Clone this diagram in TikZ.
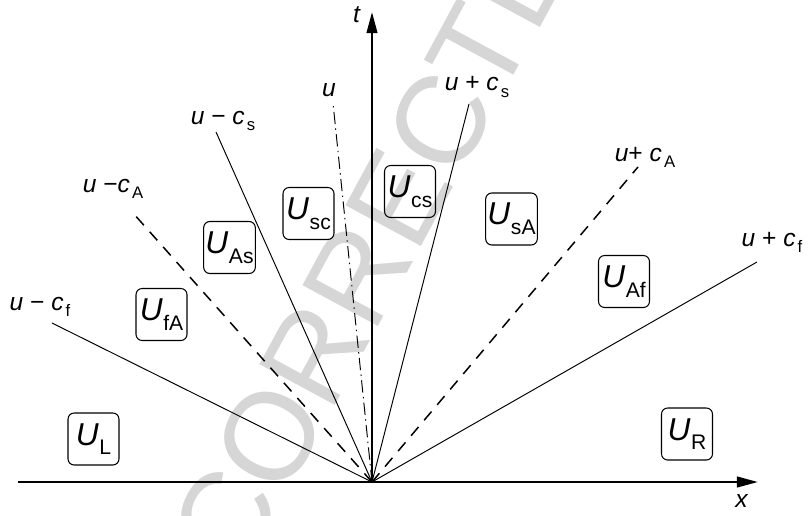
\documentclass[tikz,border=0pt]{standalone}
\usepackage{fontspec}
\setmainfont{Liberation Sans}
\usetikzlibrary{arrows.meta}

\newcommand{\regsub}[1]{\kern0.3pt\raisebox{-5.5pt}{\fontsize{12}{12}\selectfont #1}}
\newcommand{\lblsub}[1]{\kern1.2pt\raisebox{-3.5pt}{\fontsize{9.5}{9.5}\selectfont #1}}

\tikzset{
  region/.style={draw, rounded corners=3.5pt, line width=0.6pt, minimum width=1.02cm,
    minimum height=1.04cm, inner sep=1pt, font=\fontsize{18}{18}\selectfont},
  wave/.style={line width=0.55pt},
  slow/.style={line width=0.85pt, dash pattern=on 6.5pt off 5pt},
  contact/.style={line width=0.55pt, dash pattern=on 7pt off 2.5pt on 0.8pt off 2.5pt},
  axis/.style={line width=1.4pt, -{Triangle[length=12pt,width=6pt]}},
  lbl/.style={font=\fontsize{14}{14}\selectfont, inner sep=0pt},
}

\begin{document}
\begin{tikzpicture}[x=0.02cm, y=-0.02cm]
		\useasboundingbox (0,0) rectangle (809,515);
		% proof watermark
		\node[text=gray!32, rotate=61.6, font=\fontsize{71}{71}\selectfont] (wm) at (392,211) {CORRECTED};
		
		\coordinate (O) at (372,482);
		\coordinate (xs) at (18,482);
		\coordinate (xe) at (758,482);
		\coordinate (te) at (372,12);
		\draw[axis] (xs) -- (xe); \node[lbl] (xl) at (742,501) {\textit{x}};
		\draw[axis] (O) -- (te); \node[lbl] (tl) at (357,15) {\textit{t}};
		
		% wave ends
		\coordinate (fL) at (52,323); \node[lbl] (lfL) at (40,307) {\textit{u} − \textit{c}\lblsub{f}};
		\coordinate (aL) at (133,213); \node[lbl] (laL) at (113,189) {\textit{u} −\textit{c}\lblsub{A}};
		\coordinate (sL) at (216,132); \node[lbl] (lsL) at (223,121) {\textit{u} − \textit{c}\lblsub{s}};
		\coordinate (cc) at (333,103); \node[lbl] (lcc) at (329,90) {\textit{u}};
		\coordinate (sR) at (469,104); \node[lbl] (lsR) at (477,87) {\textit{u} + \textit{c}\lblsub{s}};
		\coordinate (aR) at (638,167); \node[lbl] (laR) at (645,157) {\textit{u}+ \textit{c}\lblsub{A}};
		\coordinate (fR) at (757,262); \node[lbl] (lfR) at (772,242) {\textit{u} + \textit{c}\lblsub{f}};
		
		\draw[wave] (O) -- (fL);
		\draw[slow] (O) -- (aL);
		\draw[wave] (O) -- (sL);
		\draw[contact] (O) -- (cc);
		\draw[wave] (O) -- (sR);
		\draw[slow] (O) -- (aR);
		\draw[wave] (O) -- (fR);
		
		% states
		\node[region] (UL) at (93.5,439) {\textit{U}\regsub{L}};
		\node[region] (UfA) at (161.5,314.5) {\textit{U}\regsub{fA}};
		\node[region] (UAs) at (229.5,247.5) {\textit{U}\regsub{As}};
		\node[region] (Usc) at (308.5,213.5) {\textit{U}\regsub{sc}};
		\node[region] (Ucs) at (410,191.5) {\textit{U}\regsub{cs}};
		\node[region] (UsA) at (511.5,219) {\textit{U}\regsub{sA}};
		\node[region] (UAf) at (624,281.5) {\textit{U}\regsub{Af}};
		\node[region] (UR) at (687,434) {\textit{U}\regsub{R}};
	\end{tikzpicture}
\end{document}
